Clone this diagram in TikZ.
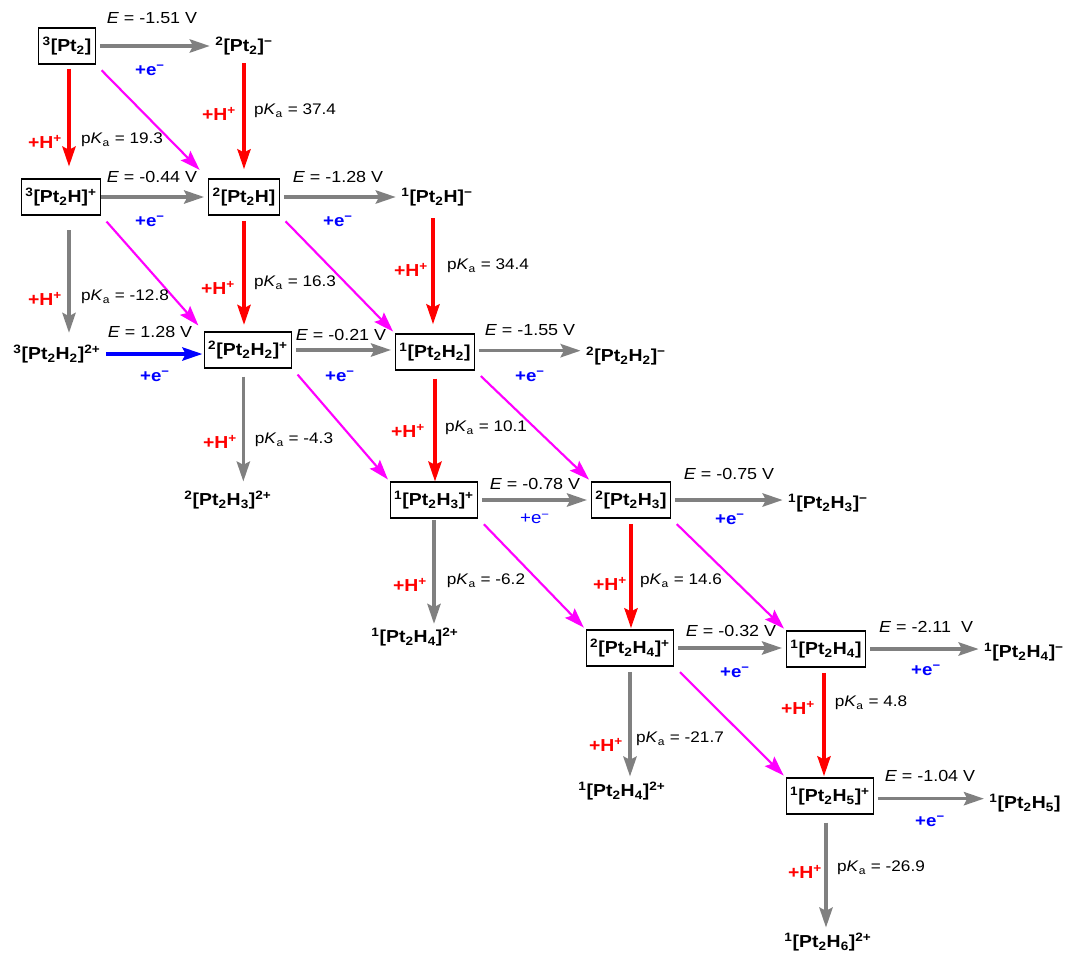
\documentclass[tikz,border=0pt]{standalone}
\usepackage{fontspec}
\setmainfont[FakeStretch=1.12]{Liberation Sans}
\usetikzlibrary{arrows.meta}
\definecolor{mag}{RGB}{255,0,255}
\definecolor{gry}{RGB}{128,128,128}
\newcommand{\sps}[1]{\textsuperscript{#1}}
\newcommand{\sbs}[1]{\textsubscript{#1}}
\newcommand{\Elab}[1]{\textit{E} = #1}
\newcommand{\Klab}[1]{p\textit{K}\textsubscript{a} = #1}
\begin{document}
\begin{tikzpicture}[x=0.75pt,y=-0.75pt,
  box/.style={draw, line width=0.8pt, font=\bfseries\fontsize{13}{15}\selectfont, inner xsep=3pt, minimum height=27pt},
  spc/.style={font=\bfseries\fontsize{13}{15}\selectfont, inner sep=1pt},
  arr/.style={line width=2.3pt, -{Stealth[length=15pt,width=10pt,inset=2.5pt]}},
  garr/.style={arr, draw=gry, shorten <=3pt, shorten >=3pt},
  rarr/.style={arr, draw=red, shorten <=3pt, shorten >=3pt},
  barr/.style={arr, draw=blue, shorten <=3pt, shorten >=1pt},
  marr/.style={draw=mag, line width=1.6pt, -{Stealth[length=15pt,width=10pt,inset=2.5pt]}, shorten <=6pt, shorten >=2pt},
  elab/.style={font=\fontsize{12}{14}\selectfont, inner sep=0pt},
  klab/.style={font=\fontsize{11.5}{13}\selectfont, inner sep=0pt},
  hlab/.style={text=red, font=\bfseries\fontsize{13}{15}\selectfont, inner sep=0pt},
  eel/.style={text=blue, font=\bfseries\fontsize{12.5}{14}\selectfont, inner sep=0pt},
  eeln/.style={text=blue, font=\fontsize{12.5}{14}\selectfont, inner sep=0pt},
]
\useasboundingbox (0,0) rectangle (1065,954);

% species
\node[box] (b1) at (67,46) {\sps{3}[Pt\sbs{2}]};
\node[spc] (t1) at (244,46) {\sps{2}[Pt\sbs{2}]\sps{−}};
\node[box] (b2) at (61,197) {\sps{3}[Pt\sbs{2}H]\sps{+}};
\node[box] (b3) at (244,197) {\sps{2}[Pt\sbs{2}H]};
\node[spc] (t2) at (437,197) {\sps{1}[Pt\sbs{2}H]\sps{−}};
\node[spc] (t3) at (57,354) {\sps{3}[Pt\sbs{2}H\sbs{2}]\sps{2+}};
\node[box] (b4) at (248,350) {\sps{2}[Pt\sbs{2}H\sbs{2}]\sps{+}};
\node[box] (b5) at (435,352) {\sps{1}[Pt\sbs{2}H\sbs{2}]};
\node[spc] (t4) at (626,356) {\sps{2}[Pt\sbs{2}H\sbs{2}]\sps{−}};
\node[spc] (t5) at (228,500) {\sps{2}[Pt\sbs{2}H\sbs{3}]\sps{2+}};
\node[box] (b6) at (434,500) {\sps{1}[Pt\sbs{2}H\sbs{3}]\sps{+}};
\node[box] (b7) at (631,500) {\sps{2}[Pt\sbs{2}H\sbs{3}]};
\node[spc] (t6) at (828,503) {\sps{1}[Pt\sbs{2}H\sbs{3}]\sps{−}};
\node[spc] (t7) at (415,637) {\sps{1}[Pt\sbs{2}H\sbs{4}]\sps{2+}};
\node[box] (b8) at (630,648) {\sps{2}[Pt\sbs{2}H\sbs{4}]\sps{+}};
\node[box] (b9) at (826,649) {\sps{1}[Pt\sbs{2}H\sbs{4}]};
\node[spc] (t8) at (1024,652) {\sps{1}[Pt\sbs{2}H\sbs{4}]\sps{−}};
\node[spc] (t9) at (622,791) {\sps{1}[Pt\sbs{2}H\sbs{4}]\sps{2+}};
\node[box] (b10) at (830,796) {\sps{1}[Pt\sbs{2}H\sbs{5}]\sps{+}};
\node[spc] (t10) at (1025,803) {\sps{1}[Pt\sbs{2}H\sbs{5}]};
\node[spc] (t11) at (828,942) {\sps{1}[Pt\sbs{2}H\sbs{6}]\sps{2+}};

% horizontal (electron) arrows
\draw[garr] (b1.east) -- (b1.east -| t1.west);
\draw[garr, shorten <=0pt] (b2.east) -- (b2.east -| b3.west);
\draw[garr] (b3.east) -- (b3.east -| t2.west);
\draw[barr] (t3.east) -- (t3.east -| b4.west);
\draw[garr] (b4.east) -- (b4.east -| b5.west);
\draw[garr] ([yshift=1pt]b5.east) -- ([yshift=1pt]b5.east -| t4.west);
\draw[garr] (b6.east) -- (b6.east -| b7.west);
\draw[garr] (b7.east) -- (b7.east -| t6.west);
\draw[garr] (b8.east) -- (b8.east -| b9.west);
\draw[garr] (b9.east) -- (b9.east -| t8.west);
\draw[garr] ([yshift=-2pt]b10.east) -- ([yshift=-2pt]b10.east -| t10.west);

% vertical (proton) arrows
\draw[rarr, shorten >=9pt] ([xshift=1.5pt]b1.south) -- ([xshift=1.5pt]b1.south |- b2.north);
\draw[rarr, shorten <=5pt, shorten >=7pt] (t1.south) -- (t1.south |- b3.north);
\draw[garr, shorten <=11pt, shorten >=8pt] ([xshift=6pt]b2.south) -- ([xshift=6pt]b2.south |- t3.north);
\draw[rarr, shorten <=4pt, shorten >=5pt] (b3.south) -- (b3.south |- b4.north);
\draw[rarr, shorten <=8pt, shorten >=7pt] ([xshift=-3pt]t2.south) -- ([xshift=-3pt]t2.south |- b5.north);
\draw[garr, shorten <=6pt, shorten >=6pt] ([xshift=-3.5pt]b4.south) -- ([xshift=-3.5pt]b4.south |- t5.north);
\draw[rarr, shorten <=6pt, shorten >=0pt] (b5.south) -- (b5.south |- b6.north);
\draw[garr, shorten <=1pt, shorten >=2pt] (b6.south) -- (b6.south |- t7.north);
\draw[rarr, shorten <=4pt, shorten >=1pt] (b7.south) -- (b7.south |- b8.north);
\draw[garr, shorten <=4pt, shorten >=3pt] (b8.south) -- (b8.south |- t9.north);
\draw[rarr, shorten <=4pt, shorten >=1pt] ([xshift=-1.5pt]b9.south) -- ([xshift=-1.5pt]b9.south |- b10.north);
\draw[garr, shorten <=6pt, shorten >=3pt] ([xshift=-3pt]b10.south) -- ([xshift=-3pt]b10.south |- t11.north);

% diagonal (H atom) arrows
\draw[marr, shorten >=9pt] (b1.south east) -- (b3.north west);
\draw[marr, shorten >=6pt] (b2.south east) -- (b4.north west);
\draw[marr] (b3.south east) -- (b5.north west);
\draw[marr] (b4.south east) -- (b6.north west);
\draw[marr] (b5.south east) -- (b7.north west);
\draw[marr] (b6.south east) -- (b8.north west);
\draw[marr] (b7.south east) -- (b9.north west);
\draw[marr] (b8.south east) -- (b10.north west);

% E labels
\node[elab] (e1) at (152,18) {\Elab{-1.51 V}};
\node[elab] (e2) at (152,177) {\Elab{-0.44 V}};
\node[elab] (e3) at (338,177) {\Elab{-1.28 V}};
\node[elab] (e4) at (150,332) {\Elab{1.28 V}};
\node[elab] (e5) at (341,335) {\Elab{-0.21 V}};
\node[elab] (e6) at (530,330) {\Elab{-1.55 V}};
\node[elab] (e7) at (535,484) {\Elab{-0.78 V}};
\node[elab] (e8) at (729,474) {\Elab{-0.75 V}};
\node[elab] (e9) at (731,631) {\Elab{-0.32 V}};
\node[elab] (e10) at (926,627) {\Elab{-2.11 \ V}};
\node[elab] (e11) at (930,776) {\Elab{-1.04 V}};

% +e- labels
\node[eel] (n1) at (150,70) {+e\sps{−}};
\node[eel] (n2) at (150,221) {+e\sps{−}};
\node[eel] (n3) at (338,221) {+e\sps{−}};
\node[eel] (n4) at (155,376) {+e\sps{−}};
\node[eel] (n5) at (340,376) {+e\sps{−}};
\node[eel] (n6) at (530,376) {+e\sps{−}};
\node[eeln] (n7) at (535,519) {+e\sps{−}};
\node[eel] (n8) at (730,519) {+e\sps{−}};
\node[eel] (n9) at (735,672) {+e\sps{−}};
\node[eel] (n10) at (926,670) {+e\sps{−}};
\node[eel] (n11) at (930,821) {+e\sps{−}};

% +H+ labels
\node[hlab] (h1) at (45,142) {+H\sps{+}};
\node[hlab] (h2) at (219,114) {+H\sps{+}};
\node[hlab] (h3) at (45,299) {+H\sps{+}};
\node[hlab] (h4) at (218,288) {+H\sps{+}};
\node[hlab] (h5) at (411,270) {+H\sps{+}};
\node[hlab] (h6) at (220,442) {+H\sps{+}};
\node[hlab] (h7) at (408,431) {+H\sps{+}};
\node[hlab] (h8) at (410,585) {+H\sps{+}};
\node[hlab] (h9) at (610,584) {+H\sps{+}};
\node[hlab] (h10) at (606,745) {+H\sps{+}};
\node[hlab] (h11) at (798,708) {+H\sps{+}};
\node[hlab] (h12) at (805,872) {+H\sps{+}};

% pKa labels
\node[klab] (k1) at (122,140) {\Klab{19.3}};
\node[klab] (k2) at (295,111) {\Klab{37.4}};
\node[klab] (k3) at (125,297) {\Klab{-12.8}};
\node[klab] (k4) at (295,283) {\Klab{16.3}};
\node[klab] (k5) at (488,266) {\Klab{34.4}};
\node[klab] (k6) at (294,440) {\Klab{-4.3}};
\node[klab] (k7) at (486,428) {\Klab{10.1}};
\node[klab] (k8) at (486,581) {\Klab{-6.2}};
\node[klab] (k9) at (681,581) {\Klab{14.6}};
\node[klab] (k10) at (680,739) {\Klab{-21.7}};
\node[klab] (k11) at (871,703) {\Klab{4.8}};
\node[klab] (k12) at (881,868) {\Klab{-26.9}};
\end{tikzpicture}
\end{document}
